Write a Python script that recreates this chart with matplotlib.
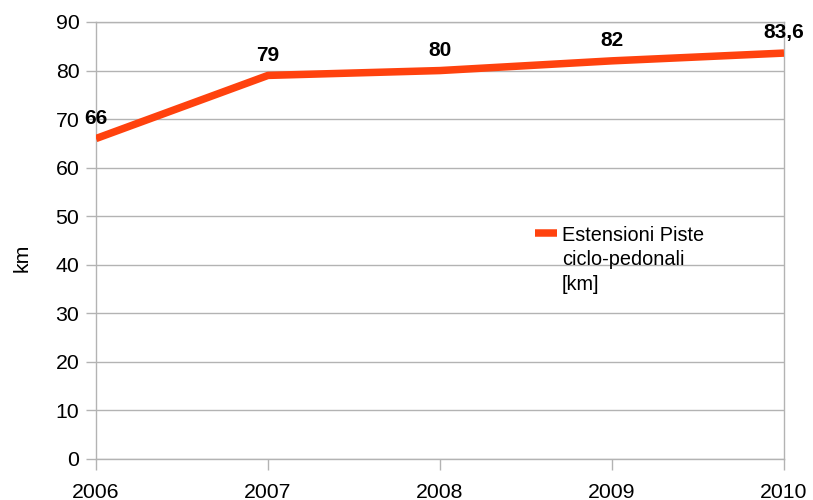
import matplotlib
matplotlib.use("Agg")
import matplotlib.pyplot as plt
from matplotlib.lines import Line2D

plt.rcParams['font.family'] = ['Liberation Sans', 'DejaVu Sans']

years = [2006, 2007, 2008, 2009, 2010]
values = [66, 79, 80, 82, 83.6]
labels = ["66", "79", "80", "82", "83,6"]
yticks = [0, 10, 20, 30, 40, 50, 60, 70, 80, 90]
series_name = "Estensioni Piste\nciclo-pedonali\n[km]"

line_c = "#ff420e"
grid_c = "#b3b3b3"

fig = plt.figure(figsize=(8.13, 5.0), dpi=100)
ax = fig.add_axes([96/813, 41/500, (784-96)/813, (459-22)/500])

for y in yticks:
    ax.axhline(y, color=grid_c, lw=1.0, zorder=1)

ax.plot(years, values, color=line_c, lw=5.4, solid_capstyle='butt', zorder=3)

for x, v, t in zip(years, values, labels):
    ax.annotate(t, (x, v), xytext=(0, 14.5), textcoords='offset points',
                ha='center', va='center', fontsize=15, fontweight='bold', zorder=4)

ax.set_xlim(2006, 2010)
ax.set_ylim(0, 90)
ax.set_xticks(years)
ax.set_xticklabels([str(y) for y in years])
ax.set_yticks(yticks)
ax.tick_params(axis='both', colors=grid_c, labelcolor='black', labelsize=15.3)
ax.tick_params(axis='y', length=7, width=1, pad=5)
ax.tick_params(axis='x', length=8, width=1, pad=9)
for s in ax.spines.values():
    s.set_color(grid_c)
    s.set_linewidth(1.0)
ax.set_ylabel("km", fontsize=15.3)
ax.yaxis.set_label_coords(-0.093, 0.46)

# legend (handle aligned with first text line, as in the reference)
fig.add_artist(Line2D([535/813, 557/813], [1 - 233/500, 1 - 233/500],
                      transform=fig.transFigure, color=line_c, lw=5.4,
                      solid_capstyle='butt'))
fig.text(562/813, 1 - 226/500, series_name, ha='left', va='top',
         fontsize=14.3, linespacing=1.35)

fig.savefig("out.png", dpi=100)
